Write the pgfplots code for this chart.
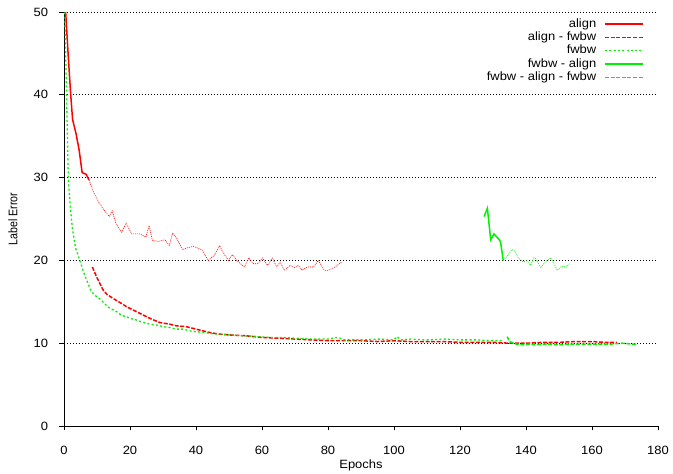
\documentclass[border=0pt]{standalone}
\usepackage{fontspec}
\setmainfont{Liberation Sans}[FakeStretch=1.08]
\newfontfamily\labfont{Liberation Sans}[FakeStretch=0.85]
\usepackage{pgfplots}
\pgfplotsset{compat=1.18}

\definecolor{gpred}{RGB}{255,0,0}
\definecolor{gpgreen}{RGB}{0,240,0}
\tikzset{
  gpsolid/.style={line width=1.5pt, solid},
  gpdash/.style={line width=1.5pt, dash pattern=on 4pt off 1.6pt},
  gpdot/.style={line width=1.3pt, dash pattern=on 2pt off 2.3pt},
  gpthin/.style={line width=0.6pt, dash pattern=on 1pt off 1pt},
}

\begin{document}
\begin{tikzpicture}
\begin{axis}[
  scale only axis, width=594pt, height=414pt,
  xmin=0, xmax=180, ymin=0, ymax=50,
  xtick={0,20,...,180}, ytick={0,10,...,50},
  axis x line*=bottom, axis y line*=left,
  axis line style={-, line width=0.9pt, black},
  tick align=outside, major tick length=4.5pt,
  tick style={black, line width=0.7pt},
  ymajorgrids,
  major grid style={black, line width=0.7pt, dash pattern=on 0.7pt off 2.3pt},
  /pgf/number format/assume math mode=true,
  ticklabel style={font=\fontsize{12}{14}\selectfont, inner sep=0pt},
  xticklabel style={anchor=center, yshift=-20pt},
  yticklabel style={anchor=east, xshift=-11.3pt},
  xlabel={Epochs}, ylabel={Label Error},
  xlabel style={font=\fontsize{12}{14}\selectfont, at={(axis description cs:0.5,-0.0942)}, anchor=center},
  ylabel style={font=\labfont\fontsize{12.5}{14}\selectfont, at={(axis description cs:-0.0859,0.5)}, anchor=center},
  legend style={draw=none, fill=none, at={(axis description cs:1,1)}, anchor=north east,
    xshift=-14pt, yshift=-6.4pt, inner sep=0pt, row sep=2.2pt, column sep=8pt,
    font=\fontsize{12}{14}\selectfont,
    nodes={inner sep=0pt, text height=8.6pt, text depth=2.5pt}},
  legend plot pos=right, legend cell align=right,
]

\addlegendimage{gpred, gpsolid, legend image code/.code={\draw[gpred, gpsolid] (0pt,0pt) -- (38pt,0pt);}}
\addlegendentry{align}
\addlegendimage{gpred, gpdash, legend image code/.code={\draw[gpred, gpdash] (0pt,0pt) -- (38pt,0pt);}}
\addlegendentry{align - fwbw}
\addlegendimage{gpgreen, gpdot, legend image code/.code={\draw[gpgreen, gpdot] (0pt,0pt) -- (38pt,0pt);}}
\addlegendentry{fwbw}
\addlegendimage{gpgreen, gpsolid, legend image code/.code={\draw[gpgreen, gpsolid] (0pt,0pt) -- (38pt,0pt);}}
\addlegendentry{fwbw - align}
\addlegendimage{gpgreen, gpdash, legend image code/.code={\draw[gpgreen, gpdash] (0pt,0pt) -- (38pt,0pt);}}
\addlegendentry{fwbw - align - fwbw}

% align
\addplot[gpred, gpsolid, forget plot] coordinates {
  (0.2,52) (1.3,44.6) (2.0,40.2) (2.6,37.0) (3.6,35.4) (4.6,33.3)
  (5.5,30.6) (6.7,30.4) (7.6,29.7)
};

% align - fwbw
\addplot[gpred, gpdash, forget plot] coordinates {
  (8.6,19.2) (10,17.9) (11.9,16.4) (13,15.9) (14.9,15.4) (17,14.9) (19,14.4)
  (21,14.0) (24,13.4) (26,13.0) (29,12.5) (32,12.3) (34,12.1) (37,12.0)
  (39,11.8) (42,11.5) (44,11.3) (47,11.1) (50,11.0) (55,10.9) (60,10.7)
  (65,10.6) (70,10.5) (75,10.4) (80,10.3) (85,10.3) (90,10.3) (95,10.2)
  (100,10.3) (105,10.2) (110,10.2) (115,10.2) (120,10.1) (125,10.1)
  (130,10.1) (135,10.0) (140,10.0) (145,10.1) (150,10.1) (155,10.2)
  (160,10.2) (164,10.1) (167.5,10.1)
};

% fwbw
\addplot[gpgreen, gpdot, forget plot] coordinates {
  (0.2,51) (0.8,39.4) (1.3,30) (1.8,27) (2.5,24) (3.5,21.5) (4.8,20.0)
  (6,18.5) (7,17.5) (8,16.5) (9,15.9) (10,15.6) (11,15.3) (12,14.9)
  (13,14.5) (14,14.2) (15,14.0) (16,13.8) (17,13.5) (18,13.3) (19,13.2)
  (20,13.0) (22,12.8) (24,12.5) (26,12.3) (28,12.2) (30,12.0) (32,11.9)
  (34,11.7) (36,11.7) (38,11.5) (40,11.4) (42,11.3) (44,11.2) (46,11.1)
  (48,11.1) (50,11.0) (54,10.9) (58,10.8) (62,10.7) (66,10.7) (70,10.6)
  (75,10.5) (80,10.5) (83,10.7) (85,10.4) (90,10.4) (95,10.5) (100,10.4)
  (101,10.8) (102,10.4) (105,10.5) (110,10.4) (115,10.5) (120,10.4)
  (125,10.4) (130,10.3) (133,10.3)
};

% fwbw - align
\addplot[gpgreen, gpsolid, forget plot] coordinates {
  (127.3,25.3) (128.3,26.3) (129.3,22.5) (130.3,23.2) (131.9,22.5)
  (132.3,22.2) (133.1,20.0)
};

% fwbw - align - fwbw
\addplot[gpgreen, gpdash, forget plot] coordinates {
  (134.3,10.8) (135,10.2) (137,9.9) (139,9.8) (141,9.9) (143,9.8) (145,9.9)
  (147,9.9) (150,9.8) (153,9.9) (156,9.9) (160,9.9) (163,9.9) (166,9.9)
  (169,10.0) (172,9.9) (173.5,9.9)
};

% thin continuations
\addplot[gpred, gpthin, forget plot] coordinates {
  (7.6,29.7) (8.9,28.3) (10.4,27.1) (11.9,26.2) (13.7,25.3) (14.6,26.0)
  (15.8,24.4) (17.5,23.4) (18.8,24.5) (20.5,23.2) (23.0,23.2) (24.8,22.8)
  (25.8,24.2) (26.8,22.4) (28.6,22.3) (30.6,22.5) (31.9,21.8) (32.9,23.3)
  (34.1,22.7) (35.9,21.3) (37.2,21.5) (39.2,21.7) (41.7,21.3) (43.7,20.0)
  (45.8,20.7) (47.1,21.8) (48.3,20.9) (49.8,20.0) (51.1,20.7) (52.3,20.0)
  (54.7,19.2) (56.0,20.3) (57.4,19.6) (58.9,19.6) (60.1,20.3) (61.7,19.4)
  (63.1,20.3) (64.5,19.2) (65.5,19.8) (66.8,18.8) (68.5,19.4) (70.0,19.1)
  (71.0,19.4) (72.1,18.8) (73.7,19.2) (75.6,19.2) (77.1,20.0) (78.9,18.8)
  (80.1,18.8) (82.1,19.2) (84.1,19.8)
};
\addplot[gpgreen, gpthin, forget plot] coordinates {
  (133.1,20.0) (134.3,20.5) (135.7,21.3) (136.4,21.2) (137.7,20.3)
  (139.2,19.8) (140.4,20.0) (141.4,19.4) (142.4,20.4) (143.3,20.0)
  (144.4,19.1) (145.8,19.8) (147.5,20.3) (149.5,18.8) (150.8,19.3)
  (152.3,19.2) (153.1,19.6)
};

\end{axis}
\pgfresetboundingbox
\path[use as bounding box] (current axis.south west) ++(-64pt,-48pt) rectangle ++(673pt,474pt);
\end{tikzpicture}
\end{document}
